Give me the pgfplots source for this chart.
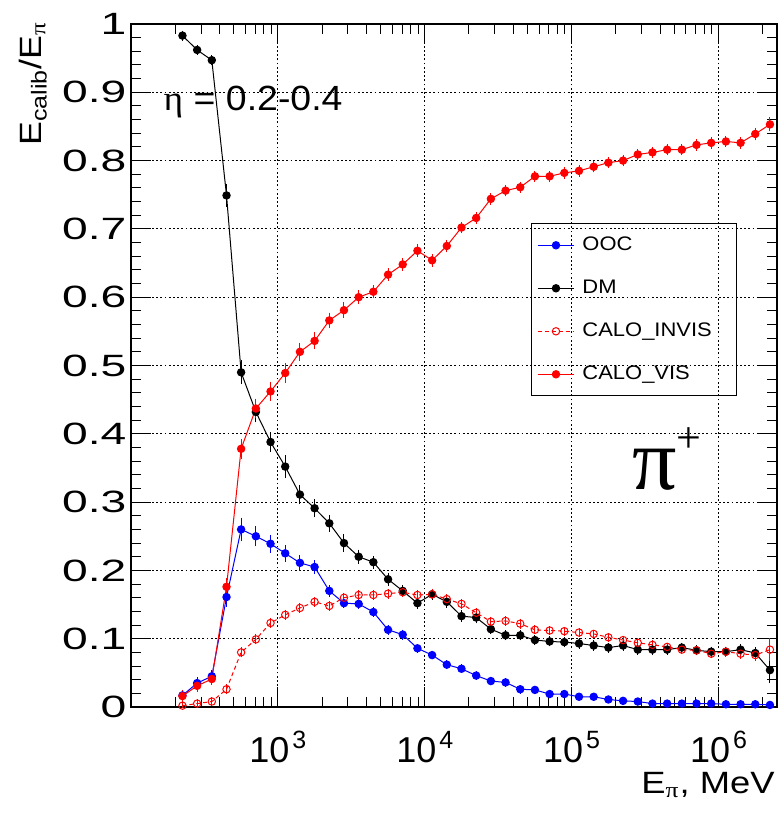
\documentclass[border=0pt]{standalone}
\usepackage{fontspec}
\setmainfont{Liberation Sans}
\newfontfamily\symfont{Liberation Serif}
\usepackage{graphicx}
\usepackage{pgfplots}
\pgfplotsset{compat=1.18}
\usepackage{pgfplotstable}

% energy, then value and error for OOC, DM, CALO_INVIS, CALO_VIS
\pgfplotstableread{
x       ooc   oocerr dm    dmerr inv   inverr vis   viserr
224     0.017 0.004  0.983 0.003 0.002 0.002  0.016 0.004
282     0.035 0.004  0.962 0.003 0.005 0.002  0.031 0.004
355     0.045 0.005  0.947 0.003 0.008 0.002  0.041 0.004
447     0.161 0.010  0.749 0.012 0.026 0.003  0.176 0.008
562     0.260 0.013  0.490 0.013 0.080 0.003  0.378 0.010
708     0.250 0.010  0.432 0.011 0.099 0.003  0.437 0.010
891     0.239 0.009  0.388 0.010 0.123 0.003  0.462 0.010
1122    0.225 0.008  0.352 0.012 0.135 0.003  0.489 0.010
1413    0.211 0.007  0.311 0.010 0.145 0.003  0.520 0.009
1778    0.205 0.006  0.291 0.009 0.154 0.003  0.536 0.008
2239    0.170 0.004  0.269 0.008 0.148 0.003  0.566 0.007
2818    0.152 0.003  0.240 0.009 0.160 0.003  0.581 0.007
3548    0.151 0.003  0.220 0.006 0.164 0.003  0.600 0.006
4467    0.139 0.003  0.212 0.005 0.164 0.003  0.608 0.005
5623    0.113 0.003  0.187 0.005 0.166 0.003  0.633 0.005
7079    0.106 0.003  0.170 0.004 0.168 0.003  0.648 0.005
8913    0.086 0.002  0.152 0.004 0.164 0.003  0.668 0.005
11220   0.076 0.002  0.165 0.004 0.165 0.003  0.654 0.005
14125   0.062 0.002  0.154 0.004 0.158 0.003  0.675 0.005
17783   0.056 0.002  0.133 0.004 0.151 0.003  0.702 0.004
22387   0.046 0.002  0.131 0.004 0.138 0.003  0.716 0.004
28184   0.038 0.002  0.114 0.003 0.125 0.003  0.744 0.004
35481   0.036 0.002  0.105 0.003 0.126 0.003  0.756 0.004
44668   0.026 0.002  0.105 0.003 0.122 0.003  0.761 0.004
56234   0.025 0.001  0.098 0.003 0.113 0.002  0.777 0.004
70795   0.019 0.001  0.096 0.003 0.112 0.002  0.777 0.004
89125   0.019 0.001  0.095 0.003 0.111 0.002  0.782 0.004
112202  0.015 0.001  0.093 0.003 0.109 0.002  0.785 0.004
141254  0.015 0.001  0.090 0.003 0.107 0.002  0.791 0.004
177828  0.011 0.001  0.087 0.003 0.102 0.002  0.797 0.004
223872  0.009 0.001  0.090 0.003 0.098 0.002  0.800 0.004
281838  0.008 0.001  0.084 0.003 0.094 0.002  0.809 0.004
354813  0.005 0.001  0.084 0.003 0.091 0.002  0.812 0.004
446684  0.005 0.001  0.084 0.003 0.088 0.002  0.816 0.004
562341  0.005 0.001  0.087 0.003 0.084 0.002  0.816 0.004
707946  0.005 0.001  0.083 0.003 0.083 0.002  0.823 0.004
891251  0.005 0.001  0.081 0.003 0.078 0.002  0.826 0.004
1122018 0.004 0.001  0.081 0.003 0.081 0.003  0.828 0.004
1412538 0.004 0.001  0.084 0.004 0.078 0.003  0.826 0.004
1778279 0.004 0.001  0.079 0.004 0.076 0.004  0.839 0.005
2238721 0.003 0.001  0.054 0.014 0.084 0.012  0.853 0.006
}\calib

\newcommand{\xexp}[1]{\hspace{1.5pt}\raisebox{7pt}{\fontsize{12.5}{12.5}\selectfont #1}}
% legend cell: fixed height, text midline in the middle, no depth
\newcommand{\leg}[1]{\hspace{3.85pt}\makebox[74.15pt][l]{\raisebox{0pt}[20pt][0pt]{\raisebox{6.4pt}{\scalebox{1.12}[1]{#1}}}}}

\begin{document}
\begin{tikzpicture}
\begin{axis}[
    name=ax,
    scale only axis,
    width=323pt, height=341.5pt,
    xmode=log,
    xmin=100, xmax=2.5e6,
    ymin=0, ymax=1,
    axis line style={black, line width=0.6pt},
    tick align=inside,
    xtick pos=both, ytick pos=both,
    xticklabel pos=bottom, yticklabel pos=left,
    major tick length=10pt, minor tick length=5pt,
    tick style={black, line width=0.5pt},
    xtick={1000,10000,100000,1000000},
    xticklabels={10\xexp{3},10\xexp{4},10\xexp{5},10\xexp{6}},
    minor xtick={200,300,400,500,600,700,800,900,
                 2000,3000,4000,5000,6000,7000,8000,9000,
                 20000,30000,40000,50000,60000,70000,80000,90000,
                 200000,300000,400000,500000,600000,700000,800000,900000,
                 2000000},
    ytick={0,0.1,0.2,0.3,0.4,0.5,0.6,0.7,0.8,0.9,1},
    yticklabels={0,0.1,0.2,0.3,0.4,0.5,0.6,0.7,0.8,0.9,1},
    minor y tick num=4,
    xmajorgrids, ymajorgrids,
    grid style={black, line width=0.6pt, dash pattern=on 0.9pt off 1.2pt},
    major grid style={black, line width=0.6pt, dash pattern=on 0.9pt off 1.2pt},
    xticklabel style={font=\fontsize{18}{18}\selectfont, anchor=base, inner sep=0pt, yshift=-27.5pt},
    yticklabel style={font=\fontsize{15.4}{15.4}\selectfont, anchor=east, inner sep=0pt, xshift=-2pt, xscale=1.5},
    every axis y label/.style={at={(axis description cs:-0.1393,1.0044)}, anchor=base east,
        rotate=90, xscale=1.16, inner sep=0pt, font=\fontsize{15.4}{15.4}\selectfont},
    every axis x label/.style={at={(axis description cs:1,0)}, anchor=base east,
        yshift=-43pt, xshift=-1pt, xscale=1.18, inner sep=0pt, font=\fontsize{15.4}{15.4}\selectfont},
    ylabel={E\textsubscript{calib}/E\textsubscript{\symfont π}},
    xlabel={E\textsubscript{\symfont π}, MeV},
    legend style={at={(axis description cs:0.6187,0.7082)}, anchor=north west,
        draw=black, line width=0.5pt, fill=none,
        inner xsep=3pt, inner ysep=0pt, row sep=0pt,
        nodes={inner sep=0pt},
        font=\fontsize{9.8}{9.8}\selectfont},
    legend cell align=left,
    legend image code/.code={\draw[mark repeat=2, mark phase=2]
        plot coordinates {(0pt,0pt) (9.15pt,0pt) (18.3pt,0pt)};},
    mark size=1.85pt,
]

\addplot[blue, line width=0.5pt, mark=*, mark options={solid, fill=blue},
    error bars/.cd, y dir=both, y explicit,
    error bar style={line width=0.5pt},
    error mark=-, error mark options={mark size=1.5pt, line width=0.5pt}]
    table[x=x, y=ooc, y error=oocerr] {\calib};
\addlegendentry{\leg{OOC}}

\addplot[black, line width=0.5pt, mark=*, mark options={solid, fill=black},
    error bars/.cd, y dir=both, y explicit,
    error bar style={line width=0.5pt},
    error mark=-, error mark options={mark size=1.5pt, line width=0.5pt}]
    table[x=x, y=dm, y error=dmerr] {\calib};
\addlegendentry{\leg{DM}}

\addplot[red, line width=0.5pt, dash pattern=on 2pt off 1.5pt, mark=o,
    mark options={solid, line width=0.5pt},
    error bars/.cd, y dir=both, y explicit,
    error bar style={line width=0.5pt, solid},
    error mark=-, error mark options={mark size=1.5pt, line width=0.5pt}]
    table[x=x, y=inv, y error=inverr] {\calib};
\addlegendentry{\leg{CALO\_INVIS}}

\addplot[red, line width=0.5pt, mark=*, mark options={solid, fill=red},
    error bars/.cd, y dir=both, y explicit,
    error bar style={line width=0.5pt},
    error mark=-, error mark options={mark size=1.5pt, line width=0.5pt}]
    table[x=x, y=vis, y error=viserr] {\calib};
\addlegendentry{\leg{CALO\_VIS}}

\node[anchor=base west, inner sep=0pt, xscale=1.07, font=\fontsize{17.5}{17.5}\selectfont]
    at (axis description cs:0.05,0.874) {{\symfont η} = 0.2-0.4};
\node[anchor=base west, inner sep=0pt, font=\fontsize{44}{44}\selectfont]
    at (axis description cs:0.7755,0.318) {\symfont π\raisebox{18.5pt}{\fontsize{22}{22}\selectfont +}};
\end{axis}
\path ([shift={(-65.5pt,-53.5pt)}]ax.south west) rectangle ([shift={(1pt,12pt)}]ax.north east);
\end{tikzpicture}
\end{document}
